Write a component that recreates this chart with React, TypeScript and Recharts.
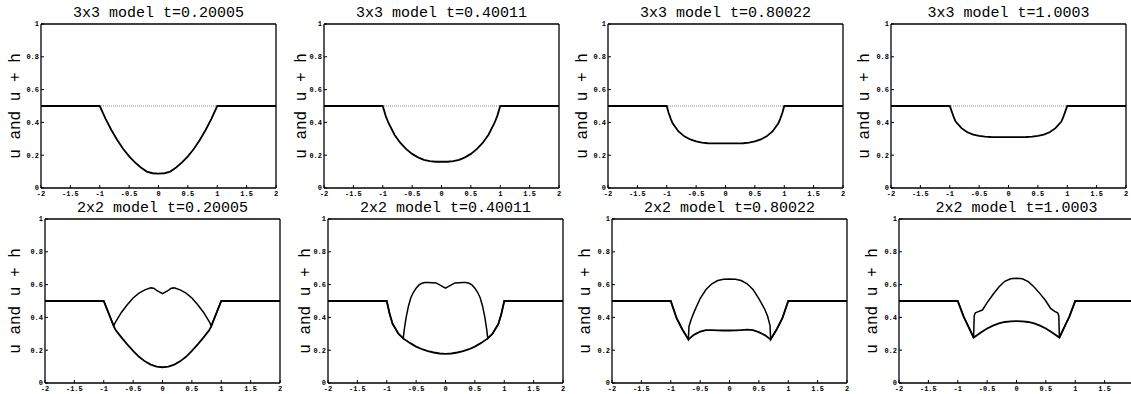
import React from "react";
import { LineChart, Line, XAxis, YAxis } from "recharts";

type Pt = [number, number];

const xTicks = [-2, -1.5, -1, -0.5, 0, 0.5, 1, 1.5, 2];
const yTicks = [0, 0.2, 0.4, 0.6, 0.8, 1];

const titles = [
  "3x3 model t=0.20005",
  "3x3 model t=0.40011",
  "3x3 model t=0.80022",
  "3x3 model t=1.0003",
  "2x2 model t=0.20005",
  "2x2 model t=0.40011",
  "2x2 model t=0.80022",
  "2x2 model t=1.0003",
];

// 3x3 model: u+h stays flat at 0.5
const flatSurface: Pt[] = [[-2, 0.5], [2, 0.5]];

const u33_t02: Pt[] = [
  [-2, 0.5], [-1, 0.5], [-0.9, 0.422], [-0.8, 0.352], [-0.7, 0.291], [-0.6, 0.238],
  [-0.5, 0.193], [-0.4, 0.156], [-0.3, 0.125], [-0.2, 0.1], [-0.1, 0.09], [0, 0.088],
  [0.1, 0.09], [0.2, 0.1], [0.3, 0.125], [0.4, 0.156], [0.5, 0.193], [0.6, 0.238],
  [0.7, 0.291], [0.8, 0.352], [0.9, 0.422], [1, 0.5], [2, 0.5],
];

const u33_t04: Pt[] = [
  [-2, 0.5], [-1, 0.5], [-0.95, 0.44], [-0.9, 0.395], [-0.8, 0.325], [-0.7, 0.275],
  [-0.6, 0.237], [-0.5, 0.208], [-0.4, 0.187], [-0.3, 0.172], [-0.2, 0.164], [-0.1, 0.16],
  [0, 0.16], [0.1, 0.16], [0.2, 0.164], [0.3, 0.172], [0.4, 0.187], [0.5, 0.208],
  [0.6, 0.237], [0.7, 0.275], [0.8, 0.325], [0.9, 0.395], [0.95, 0.44], [1, 0.5], [2, 0.5],
];

const u33_t08: Pt[] = [
  [-2, 0.5], [-1, 0.5], [-0.97, 0.46], [-0.93, 0.42], [-0.9, 0.395], [-0.8, 0.345],
  [-0.7, 0.315], [-0.6, 0.296], [-0.5, 0.284], [-0.4, 0.277], [-0.3, 0.273], [-0.2, 0.272],
  [0, 0.272], [0.2, 0.272], [0.3, 0.273], [0.4, 0.277], [0.5, 0.284], [0.6, 0.296],
  [0.7, 0.315], [0.8, 0.345], [0.9, 0.395], [0.93, 0.42], [0.97, 0.46], [1, 0.5], [2, 0.5],
];

const u33_t10: Pt[] = [
  [-2, 0.5], [-1, 0.5], [-0.97, 0.47], [-0.93, 0.43], [-0.9, 0.405], [-0.8, 0.365],
  [-0.7, 0.34], [-0.6, 0.326], [-0.5, 0.318], [-0.4, 0.313], [-0.3, 0.311], [0, 0.31],
  [0.3, 0.311], [0.4, 0.313], [0.5, 0.318], [0.6, 0.326], [0.7, 0.34], [0.8, 0.365],
  [0.9, 0.405], [0.93, 0.43], [0.97, 0.47], [1, 0.5], [2, 0.5],
];

// 2x2 model
const u22_t02: Pt[] = [
  [-2, 0.5], [-1, 0.5], [-0.9, 0.41], [-0.83, 0.347], [-0.8, 0.325], [-0.7, 0.278],
  [-0.6, 0.236], [-0.5, 0.196], [-0.4, 0.16], [-0.3, 0.132], [-0.2, 0.112], [-0.1, 0.1],
  [0, 0.096], [0.1, 0.1], [0.2, 0.112], [0.3, 0.132], [0.4, 0.16], [0.5, 0.196],
  [0.6, 0.236], [0.7, 0.278], [0.8, 0.325], [0.83, 0.347], [0.9, 0.41], [1, 0.5], [2, 0.5],
];
const uh22_t02: Pt[] = [
  [-2, 0.5], [-1, 0.5], [-0.9, 0.41], [-0.83, 0.347], [-0.8, 0.372], [-0.7, 0.43],
  [-0.6, 0.477], [-0.5, 0.518], [-0.4, 0.548], [-0.3, 0.568], [-0.2, 0.58], [-0.15, 0.578],
  [-0.1, 0.565], [0, 0.545], [0.1, 0.565], [0.15, 0.578], [0.2, 0.58], [0.3, 0.568],
  [0.4, 0.548], [0.5, 0.518], [0.6, 0.477], [0.7, 0.43], [0.8, 0.372], [0.83, 0.347],
  [0.9, 0.41], [1, 0.5], [2, 0.5],
];

const u22_t04: Pt[] = [
  [-2, 0.5], [-1, 0.5], [-0.95, 0.42], [-0.9, 0.36], [-0.8, 0.3], [-0.72, 0.272],
  [-0.6, 0.243], [-0.5, 0.222], [-0.4, 0.206], [-0.3, 0.195], [-0.2, 0.186], [-0.1, 0.18],
  [0, 0.178], [0.1, 0.18], [0.2, 0.186], [0.3, 0.195], [0.4, 0.206], [0.5, 0.222],
  [0.6, 0.243], [0.72, 0.272], [0.8, 0.3], [0.9, 0.36], [0.95, 0.42], [1, 0.5], [2, 0.5],
];
const uh22_t04: Pt[] = [
  [-2, 0.5], [-1, 0.5], [-0.95, 0.42], [-0.9, 0.36], [-0.8, 0.3], [-0.72, 0.272],
  [-0.7, 0.33], [-0.67, 0.4], [-0.63, 0.47], [-0.59, 0.52], [-0.55, 0.55], [-0.5, 0.578],
  [-0.45, 0.598], [-0.4, 0.608], [-0.35, 0.613], [-0.3, 0.613], [-0.16, 0.61], [0, 0.579],
  [0.16, 0.61], [0.3, 0.613], [0.35, 0.613], [0.4, 0.608], [0.45, 0.598], [0.5, 0.578],
  [0.55, 0.55], [0.59, 0.52], [0.63, 0.47], [0.67, 0.4], [0.7, 0.33], [0.72, 0.272],
  [0.8, 0.3], [0.9, 0.36], [0.95, 0.42], [1, 0.5], [2, 0.5],
];

const u22_t08: Pt[] = [
  [-2, 0.5], [-1, 0.5], [-0.9, 0.395], [-0.8, 0.325], [-0.7, 0.266], [-0.6, 0.295],
  [-0.5, 0.313], [-0.4, 0.322], [-0.3, 0.323], [-0.2, 0.321], [-0.1, 0.32], [0, 0.32],
  [0.1, 0.321], [0.2, 0.323], [0.3, 0.325], [0.4, 0.322], [0.5, 0.31], [0.6, 0.292],
  [0.7, 0.266], [0.8, 0.325], [0.9, 0.395], [1, 0.5], [2, 0.5],
];
const uh22_t08: Pt[] = [
  [-2, 0.5], [-1, 0.5], [-0.9, 0.395], [-0.8, 0.325], [-0.7, 0.266], [-0.69, 0.345],
  [-0.65, 0.39], [-0.6, 0.435], [-0.5, 0.515], [-0.4, 0.57], [-0.3, 0.605], [-0.2, 0.625],
  [-0.1, 0.633], [0, 0.634], [0.1, 0.633], [0.2, 0.625], [0.3, 0.605], [0.4, 0.57],
  [0.5, 0.515], [0.6, 0.45], [0.65, 0.405], [0.69, 0.35], [0.7, 0.266], [0.8, 0.325],
  [0.9, 0.395], [1, 0.5], [2, 0.5],
];

const u22_t10: Pt[] = [
  [-2, 0.5], [-1, 0.5], [-0.9, 0.405], [-0.8, 0.33], [-0.73, 0.277], [-0.6, 0.31],
  [-0.5, 0.332], [-0.4, 0.35], [-0.3, 0.363], [-0.2, 0.372], [-0.1, 0.376], [0, 0.377],
  [0.1, 0.376], [0.2, 0.372], [0.3, 0.363], [0.4, 0.35], [0.5, 0.332], [0.6, 0.31],
  [0.73, 0.277], [0.8, 0.33], [0.9, 0.405], [1, 0.5], [2, 0.5],
];
const uh22_t10: Pt[] = [
  [-2, 0.5], [-1, 0.5], [-0.9, 0.405], [-0.8, 0.33], [-0.73, 0.277], [-0.72, 0.41],
  [-0.7, 0.428], [-0.65, 0.435], [-0.58, 0.445], [-0.5, 0.49], [-0.4, 0.54], [-0.3, 0.585],
  [-0.2, 0.62], [-0.1, 0.636], [0, 0.638], [0.1, 0.635], [0.2, 0.618], [0.3, 0.585],
  [0.4, 0.545], [0.5, 0.5], [0.58, 0.455], [0.65, 0.437], [0.7, 0.428], [0.72, 0.41],
  [0.73, 0.277], [0.8, 0.33], [0.9, 0.405], [1, 0.5], [2, 0.5],
];

// plot area size and padding around it inside each chart
const PW = 235;
const PH = 164;
const ML = 40;
const MT = 24;
const MR = 8;
const MB = 16;

const panels = [
  { title: titles[0], u: u33_t02, uh: flatSurface, left: 41, top: 24, lab: 25, row: 0 },
  { title: titles[1], u: u33_t04, uh: flatSurface, left: 324, top: 24, lab: 22, row: 0 },
  { title: titles[2], u: u33_t08, uh: flatSurface, left: 608, top: 24, lab: 25.5, row: 0 },
  { title: titles[3], u: u33_t10, uh: flatSurface, left: 891, top: 24, lab: 26.5, row: 0 },
  { title: titles[4], u: u22_t02, uh: uh22_t02, left: 45, top: 219, lab: 29.5, row: 1 },
  { title: titles[5], u: u22_t04, uh: uh22_t04, left: 328, top: 219, lab: 22.5, row: 1 },
  { title: titles[6], u: u22_t08, uh: uh22_t08, left: 612, top: 219, lab: 26, row: 1 },
  { title: titles[7], u: u22_t10, uh: uh22_t10, left: 899, top: 219, lab: 26, row: 1 },
];

const tickStyle = {
  fontSize: 7,
  fontFamily: "Liberation Mono, monospace",
  fontWeight: "bold",
  fill: "#000",
};
const noLabel = () => <text />;

function Panel({ p }: { p: (typeof panels)[number] }) {
  const uData = p.u.map(([x, y]) => ({ x, y }));
  const uhData = p.uh.map(([x, y]) => ({ x, y }));
  const W = PW + ML + MR;
  const H = PH + MT + MB;
  return (
    <div style={{ position: "absolute", left: p.left - ML, top: p.top - MT, width: W, height: H }}>
      <LineChart width={W} height={H} margin={{ top: MT - 2, right: MR - 2, bottom: MB - 14, left: ML - 30 }}>
        <XAxis
          xAxisId="b"
          type="number"
          dataKey="x"
          domain={[-2, 2]}
          ticks={xTicks}
          interval={0}
          height={14}
          tickSize={-3}
          tickMargin={6}
          tick={tickStyle}
          axisLine={{ stroke: "#000", strokeWidth: 1.3 }}
          tickLine={{ stroke: "#000" }}
        />
        <XAxis
          xAxisId="t"
          orientation="top"
          type="number"
          dataKey="x"
          domain={[-2, 2]}
          ticks={xTicks}
          interval={0}
          height={2}
          tickSize={-3}
          tick={noLabel}
          axisLine={{ stroke: "#000", strokeWidth: 1.3 }}
          tickLine={{ stroke: "#000" }}
        />
        <YAxis
          yAxisId="l"
          type="number"
          domain={[0, 1]}
          ticks={yTicks}
          interval={0}
          width={30}
          tickSize={-3}
          tickMargin={5}
          tick={tickStyle}
          axisLine={{ stroke: "#000", strokeWidth: 1.3 }}
          tickLine={{ stroke: "#000" }}
        />
        <YAxis
          yAxisId="r"
          orientation="right"
          type="number"
          domain={[0, 1]}
          ticks={yTicks}
          interval={0}
          width={2}
          tickSize={-3}
          tick={noLabel}
          axisLine={{ stroke: "#000", strokeWidth: 1.3 }}
          tickLine={{ stroke: "#000" }}
        />
        <Line
          xAxisId="b"
          yAxisId="l"
          data={uhData}
          dataKey="y"
          type="linear"
          dot={false}
          isAnimationActive={false}
          stroke={p.row === 0 ? "#888" : "#000"}
          strokeWidth={p.row === 0 ? 1 : 1.5}
          strokeDasharray={p.row === 0 ? "1 1" : undefined}
        />
        <Line
          xAxisId="b"
          yAxisId="l"
          data={uData}
          dataKey="y"
          type="linear"
          dot={false}
          isAnimationActive={false}
          stroke="#000"
          strokeWidth={1.8}
        />
      </LineChart>
      <div
        style={{
          position: "absolute",
          left: ML - 40,
          width: PW + 80,
          top: 6,
          textAlign: "center",
          fontFamily: "Liberation Mono, monospace",
          fontSize: 15,
          lineHeight: "16px",
          whiteSpace: "nowrap",
        }}
      >
        {p.title}
      </div>
      <div
        style={{
          position: "absolute",
          left: ML - p.lab - 100,
          top: MT + PH / 2 - 9,
          width: 200,
          height: 18,
          lineHeight: "18px",
          textAlign: "center",
          transform: "rotate(-90deg)",
          fontFamily: "Liberation Mono, monospace",
          fontSize: 16,
          whiteSpace: "nowrap",
        }}
      >
        u and u + h
      </div>
    </div>
  );
}

export default function App() {
  return (
    <div
      style={{
        position: "absolute",
        left: 0,
        top: 0,
        width: 1131,
        height: 394,
        overflow: "hidden",
        background: "#fff",
      }}
    >
      {panels.map((p, i) => (
        <Panel key={i} p={p} />
      ))}
    </div>
  );
}
